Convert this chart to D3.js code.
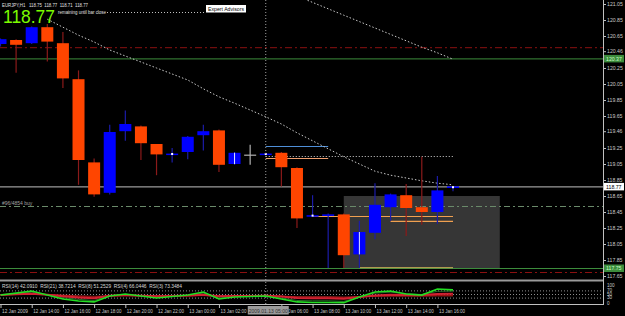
<!DOCTYPE html>
<html>
<head>
<meta charset="utf-8">
<script src="https://cdn.jsdelivr.net/npm/d3@7"></script>
<style>
  body { margin: 0; background: #000; }
  svg { display: block; font-family: "Liberation Sans", Arial, sans-serif; }
</style>
</head>
<body>
<div id="myChart"></div>
<script>
// EURJPY H1, 12 Jan 2009 12:00 -> 13 Jan 2009 17:00
const opens  = [120.55,120.60,120.56,120.76,120.56,120.11,119.07,118.69,119.46,119.52,119.30,119.17,119.20,119.41,119.47,119.05,119.16,119.17,119.19,119.00,118.40,118.41,118.42,117.92,118.19,118.51,118.66,118.51,118.45,118.75];
const highs  = [120.62,120.61,120.77,120.80,120.70,120.22,119.12,119.54,119.72,119.53,119.30,119.25,119.40,119.54,119.48,119.20,119.29,119.19,119.20,119.01,118.66,118.43,118.43,118.34,118.81,118.68,118.80,119.14,118.90,118.77];
const lows   = [120.52,120.19,120.55,120.33,120.00,118.79,118.64,118.67,119.34,119.10,118.91,119.07,119.11,119.22,118.95,119.04,119.04,119.16,118.77,118.25,118.39,117.75,117.75,117.75,118.11,118.34,118.15,118.29,118.30,118.71];
const closes = [120.61,120.54,120.76,120.58,120.12,119.10,118.67,119.45,119.55,119.31,119.17,119.18,119.39,119.46,119.04,119.19,119.16,119.18,119.01,118.37,118.41,118.42,117.91,118.20,118.54,118.67,118.50,118.45,118.72,118.77];

// moving averages (null = not on screen)
const maFast = [null,null,null,120.86,120.76,120.66,120.575,120.475,120.40,120.325,120.25,120.175,120.10,119.99,119.89,119.81,119.725,119.64,119.55,119.44,119.34,119.24,119.14,119.05,118.96,118.91,118.875,118.84,118.81,118.79];
const maSlow = [null,null,null,null,null,null,null,null,null,null,null,null,null,null,null,null,null,null,121.22,121.15,121.07,120.99,120.91,120.83,120.75,120.67,120.59,120.51,120.44,120.36];

// RSI pane
const rsi3  = [44,55,67,44,22,11,6,39,50,39,28,36,44,61,22,33,36,39,22,6,3,3,2,33,61,67,50,44,78,73];
const rsi4  = [44,52,60,45,30,20,14,40,48,40,32,37,43,55,28,35,37,39,28,14,12,12,9,33,55,60,52,47,65,66];
const rsi8  = [45,48,52,46,38,30,26,40,44,40,37,39,41,46,38,39,39,40,36,28,27,27,24,33,42,46,45,44,50,51];
const rsi14 = [46,47,50,47,42,36,33,39,41,40,38,39,40,42,38,38,38,39,37,33,32,32,30,34,38,40,40,40,42,42];
const rsi21 = [47,48,49,47,44,40,37,40,41,40,39,39,40,41,39,39,39,39,38,35,35,35,33,35,37,38,38,38,39,39];
const rsiLevels = [70, 50, 30];
const rsiTicks = [100, 70, 50, 30, 0];
const rsiLegend = "RSI(14) 42.0910  RSI(21) 38.7214  RSI(8) 51.2529  RSI(4) 66.0446  RSI(3) 73.3484";

// axis labels
const priceTicks = ["121.05","120.85","120.65","120.46","120.25","120.05","119.85","119.65","119.46","119.25","119.05","118.85","118.65","118.45","118.25","118.05","117.85","117.65"];
const timeLabels = ["12 Jan 2009","12 Jan 14:00","12 Jan 16:00","12 Jan 18:00","12 Jan 20:00","12 Jan 22:00","13 Jan 00:00","13 Jan 02:00","13 Jan 04:00","13 Jan 06:00","13 Jan 08:00","13 Jan 10:00","13 Jan 12:00","13 Jan 14:00","13 Jan 16:00"];

// levels and objects
const redLevels = [120.51, 117.70];
const greenLevels = [120.37, 117.75];
const bid = 118.77;
const orderPrice = 118.525;
const orderLabel = "#96/4854 buy";
const lineBar = 17;
const lineLabel = "2009.01.13 05:00";
const boxBars = [22, 32];
const boxPrices = [118.65, 117.75];
// segments: [bar from, bar to, price, colour, dash]
const segments = [
  [17, 21, 119.275, "#4f8fd8", null],
  [17, 21, 119.125, "#f0a070", null],
  [17, 29, 119.15, "#d0d0d0", "1,2"],
  [20, 29, 118.40, "#f0a050", null],
  [25, 29, 118.34, "#f0a050", null],
  [23, 29, 117.76, "#b09a50", null]
];
const dotBars = [11, 17, 20, 29];
const dotPrices = [119.175, 119.175, 118.405, 118.76];
const markBars = [15, 23];

const width = 625, height = 316;
const plotRight = 603;

const svg = d3.select("#myChart")
    .append("svg")
    .attr("width", width)
    .attr("height", height);

svg.append("rect").attr("width", width).attr("height", height).attr("fill", "#000");

// scales
const x = d3.scaleLinear().domain([0, 29]).range([0.5, 453]);
const y = d3.scaleLinear().domain([117.65, 121.05]).range([276, 4]);
const yR = d3.scaleLinear().domain([0, 100]).range([303, 285]);

const main = svg.append("g");

// grey rectangle object
main.append("rect")
    .attr("x", x(boxBars[0]))
    .attr("y", y(boxPrices[0]))
    .attr("width", x(boxBars[1]) - x(boxBars[0]))
    .attr("height", y(boxPrices[1]) - y(boxPrices[0]))
    .attr("fill", "#363636");

// vertical line object
svg.append("line")
    .attr("x1", x(lineBar)).attr("x2", x(lineBar))
    .attr("y1", 0).attr("y2", 304)
    .attr("stroke", "#a0a0a0").attr("stroke-dasharray", "1,2");

// horizontal levels
main.selectAll(".red").data(redLevels).enter().append("line")
    .attr("x1", 0).attr("x2", plotRight)
    .attr("y1", d => y(d) + 0.5).attr("y2", d => y(d) + 0.5)
    .attr("stroke", "#8b1010").attr("stroke-dasharray", "7,3,2,3");

main.selectAll(".green").data(greenLevels).enter().append("line")
    .attr("x1", 0).attr("x2", plotRight)
    .attr("y1", d => y(d) + 0.5).attr("y2", d => y(d) + 0.5)
    .attr("stroke", "#3c8c3c");

main.append("line")
    .attr("x1", 0).attr("x2", plotRight)
    .attr("y1", y(orderPrice) + 0.5).attr("y2", y(orderPrice) + 0.5)
    .attr("stroke", "#6a8a6a").attr("stroke-dasharray", "6,3,2,3");

main.append("text")
    .attr("x", 2).attr("y", y(orderPrice) - 1.5)
    .attr("fill", "#a0a0a0").attr("font-size", 5)
    .text(orderLabel);

main.append("line")
    .attr("x1", 0).attr("x2", plotRight)
    .attr("y1", y(bid) + 0.5).attr("y2", y(bid) + 0.5)
    .attr("stroke", "#c0c0c0");

main.selectAll(".seg").data(segments).enter().append("line")
    .attr("x1", d => x(d[0])).attr("x2", d => x(d[1]))
    .attr("y1", d => y(d[2]) + 0.5).attr("y2", d => y(d[2]) + 0.5)
    .attr("stroke", d => d[3])
    .attr("stroke-width", 1.2)
    .attr("stroke-dasharray", d => d[4]);

// moving averages
const maLine = d3.line()
    .defined(d => d !== null)
    .x((d, i) => x(i))
    .y(d => y(d));

[maFast, maSlow].forEach(function (ma) {
    main.append("path")
        .attr("d", maLine(ma))
        .attr("fill", "none")
        .attr("stroke", "#c8c8c8")
        .attr("stroke-dasharray", "1.5,2");
});

// candles
const bars = opens.map((o, i) => ({ i: i, o: o, h: highs[i], l: lows[i], c: closes[i] }));
const candleW = 12;

const candle = main.selectAll(".candle").data(bars).enter().append("g");

candle.append("line")
    .attr("x1", d => x(d.i)).attr("x2", d => x(d.i))
    .attr("y1", d => y(d.h)).attr("y2", d => y(d.l))
    .attr("stroke", function (d) {
        if (d.c > d.o) return "#1c1ca8";
        if (d.c < d.o) return "#8b1a1a";
        return "#b0b0b0";
    })
    .attr("stroke-width", 1.2);

candle.filter(d => d.c !== d.o).append("rect")
    .attr("x", d => x(d.i) - candleW / 2)
    .attr("y", d => y(Math.max(d.o, d.c)))
    .attr("width", candleW)
    .attr("height", d => Math.max(1.5, Math.abs(y(d.o) - y(d.c))))
    .attr("fill", d => d.c > d.o ? "#0000ff" : "#ff4500");

candle.filter(d => d.c === d.o).append("line")
    .attr("x1", d => x(d.i) - candleW / 2).attr("x2", d => x(d.i) + candleW / 2)
    .attr("y1", d => y(d.o)).attr("y2", d => y(d.o))
    .attr("stroke", "#b0b0b0").attr("stroke-width", 1.2);

// trade marks
main.selectAll(".dot").data(dotBars).enter().append("rect")
    .attr("x", d => x(d) - 1)
    .attr("y", (d, i) => y(dotPrices[i]) - 1)
    .attr("width", 2).attr("height", 2)
    .attr("fill", "#fff");

main.selectAll(".mark").data(markBars).enter().append("line")
    .attr("x1", d => x(d)).attr("x2", d => x(d))
    .attr("y1", d => y(opens[d])).attr("y2", d => y(closes[d]))
    .attr("stroke", "#e0e8ff").attr("stroke-width", 1);

// header texts
svg.append("text")
    .attr("x", 2).attr("y", 6.5)
    .attr("fill", "#e0e0e0").attr("font-size", 5)
    .attr("textLength", 86).attr("lengthAdjust", "spacingAndGlyphs")
    .attr("xml:space", "preserve")
    .text("EURJPY,H1   118.75  118.77  118.71  118.77");

svg.append("text")
    .attr("x", 58).attr("y", 14)
    .attr("fill", "#e0e0e0").attr("font-size", 4.8)
    .attr("textLength", 48).attr("lengthAdjust", "spacingAndGlyphs")
    .text("remaining until bar close");

svg.append("line")
    .attr("x1", 107).attr("x2", 206)
    .attr("y1", 12.5).attr("y2", 12.5)
    .attr("stroke", "#c0c0c0").attr("stroke-dasharray", "1,2");

svg.append("text")
    .attr("x", 3).attr("y", 22.5)
    .attr("fill", "#7cfc00").attr("font-size", 19)
    .attr("textLength", 52).attr("lengthAdjust", "spacingAndGlyphs")
    .text("118.77");

svg.append("rect")
    .attr("x", 206).attr("y", 5).attr("width", 40).attr("height", 7.5)
    .attr("fill", "#fff");
svg.append("text")
    .attr("x", 208).attr("y", 11)
    .attr("fill", "#000").attr("font-size", 5.2)
    .attr("textLength", 36).attr("lengthAdjust", "spacingAndGlyphs")
    .text("Expert Advisors");

// RSI pane
const rsiG = svg.append("g");

rsiG.append("rect")
    .attr("x", 0).attr("y", 279.5).attr("width", plotRight).attr("height", 2)
    .attr("fill", "#9a9a9a");

rsiG.selectAll(".lvl").data(rsiLevels).enter().append("line")
    .attr("x1", 0).attr("x2", plotRight)
    .attr("y1", d => yR(d) + 0.5).attr("y2", d => yR(d) + 0.5)
    .attr("stroke", "#909090").attr("stroke-dasharray", "1,2");

const rsiLine = d3.line()
    .x((d, i) => x(i))
    .y(d => yR(d));

const rsiSeries = [
    [rsi21, "#8b2020", 1],
    [rsi14, "#a01010", 1],
    [rsi4, "#2a6a2a", 1],
    [rsi8, "#d02030", 2],
    [rsi3, "#22dd22", 1.6]
];
rsiSeries.forEach(function (s) {
    rsiG.append("path")
        .attr("d", rsiLine(s[0]))
        .attr("fill", "none")
        .attr("stroke", s[1])
        .attr("stroke-width", s[2]);
});

rsiG.append("text")
    .attr("x", 2).attr("y", 287.5)
    .attr("fill", "#d8d8d8").attr("font-size", 5)
    .attr("textLength", 180).attr("lengthAdjust", "spacingAndGlyphs")
    .attr("xml:space", "preserve")
    .text(rsiLegend);

// bottom of panes
svg.append("line")
    .attr("x1", 0).attr("x2", plotRight)
    .attr("y1", 304.5).attr("y2", 304.5)
    .attr("stroke", "#c0c0c0");

// right price axis
svg.append("line")
    .attr("x1", plotRight + 0.5).attr("x2", plotRight + 0.5)
    .attr("y1", 0).attr("y2", 305)
    .attr("stroke", "#c0c0c0");

const priceAxis = svg.append("g");
priceAxis.selectAll(".pt").data(priceTicks).enter().append("line")
    .attr("x1", plotRight).attr("x2", plotRight + 3)
    .attr("y1", d => y(+d) + 0.5).attr("y2", d => y(+d) + 0.5)
    .attr("stroke", "#c0c0c0");
priceAxis.selectAll(".pl").data(priceTicks).enter().append("text")
    .attr("x", 607).attr("y", d => y(+d) + 2)
    .attr("fill", "#c8c8c8").attr("font-size", 5.2)
    .text(d => d);

// price tags
const tags = [
    [greenLevels[0], "#3c8c3c", "#c8ffc8"],
    [bid, "#ffffff", "#000"],
    [greenLevels[1], "#3c8c3c", "#c8ffc8"]
];
tags.forEach(function (t) {
    priceAxis.append("rect")
        .attr("x", 604).attr("y", y(t[0]) - 3.5)
        .attr("width", 20).attr("height", 7.5)
        .attr("fill", t[1]);
    priceAxis.append("text")
        .attr("x", 606).attr("y", y(t[0]) + 2.2)
        .attr("fill", t[2]).attr("font-size", 5.2)
        .text(t[0].toFixed(2));
});

priceAxis.selectAll(".rt").data(rsiTicks).enter().append("text")
    .attr("x", 607).attr("y", d => yR(d) + 1.8)
    .attr("fill", "#c8c8c8").attr("font-size", 4.6)
    .text(d => d);

// time axis (label under the line object is hidden by its tag)
const timeAxis = svg.append("g");
const shownTimes = timeLabels.map((t, i) => ({ t: t, bar: i * 2 }))
    .filter(d => d.bar !== 16);
timeAxis.selectAll(".tt").data(shownTimes).enter().append("line")
    .attr("x1", d => x(d.bar) + 0.5).attr("x2", d => x(d.bar) + 0.5)
    .attr("y1", 305).attr("y2", 308)
    .attr("stroke", "#c0c0c0");
timeAxis.selectAll(".tl").data(shownTimes).enter().append("text")
    .attr("x", d => x(d.bar) + (d.bar === 18 ? 7 : 1.5)).attr("y", 313)
    .attr("fill", "#c8c8c8").attr("font-size", 5)
    .attr("textLength", d => d.bar === 18 ? 20 : 26).attr("lengthAdjust", "spacingAndGlyphs")
    .text(d => d.bar === 18 ? d.t.slice(3) : d.t);

timeAxis.append("rect")
    .attr("x", x(lineBar) - 18).attr("y", 306)
    .attr("width", 41).attr("height", 8.5)
    .attr("fill", "#9a9a9a");
timeAxis.append("text")
    .attr("x", x(lineBar) - 17).attr("y", 312.5)
    .attr("fill", "#303030").attr("font-size", 4.8)
    .attr("textLength", 39).attr("lengthAdjust", "spacingAndGlyphs")
    .text(lineLabel);
</script>
</body>
</html>
